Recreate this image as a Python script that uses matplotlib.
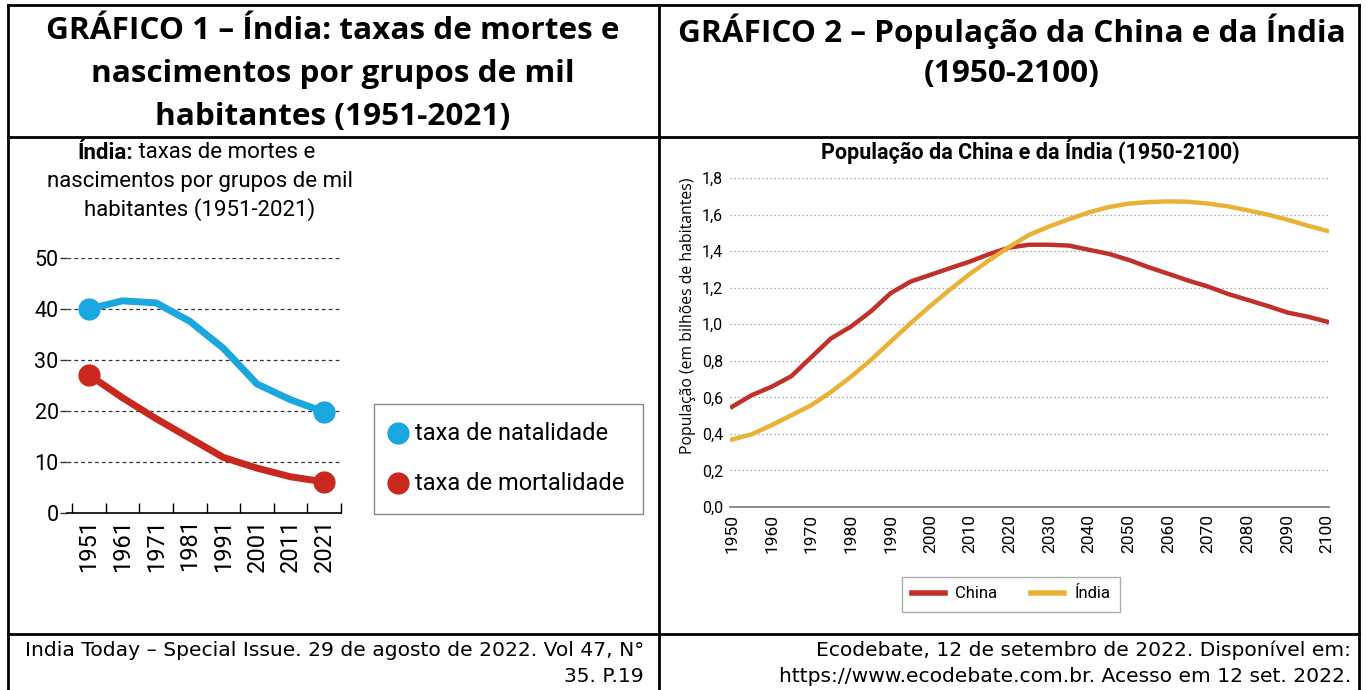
import matplotlib
matplotlib.use("Agg")
import matplotlib.pyplot as plt
from matplotlib.lines import Line2D
from matplotlib.patches import Rectangle

W, H = 1367, 690
fig = plt.figure(figsize=(W / 100, H / 100), dpi=100)
R = fig.canvas.get_renderer()

def fx(px): return px / W
def fy(py): return 1 - py / H

def fit(t, target_w):
    w = t.get_window_extent(R).width
    t.set_fontsize(t.get_fontsize() * target_w / w)
    return t

# ---------------- data ----------------
g1_years = ["1951", "1961", "1971", "1981", "1991", "2001", "2011", "2021"]
g1_natalidade = [40.0, 41.6, 41.2, 37.6, 32.3, 25.3, 22.2, 19.8]
g1_mortalidade = [27.1, 22.6, 18.5, 14.7, 10.9, 8.8, 7.1, 6.1]
g1_yticks = [0, 10, 20, 30, 40, 50]

g2_years = list(range(1950, 2101, 5))
g2_china = [0.548, 0.612, 0.658, 0.716, 0.82, 0.923, 0.987, 1.07, 1.17, 1.233,
            1.27, 1.307, 1.343, 1.385, 1.42, 1.435, 1.435, 1.43, 1.407, 1.385,
            1.352, 1.312, 1.276, 1.239, 1.206, 1.166, 1.133, 1.10, 1.064, 1.042, 1.014]
g2_india = [0.369, 0.398, 0.448, 0.502, 0.557, 0.63, 0.713, 0.804, 0.905, 1.005,
            1.10, 1.19, 1.276, 1.352, 1.425, 1.49, 1.535, 1.575, 1.612, 1.641,
            1.66, 1.668, 1.672, 1.67, 1.66, 1.645, 1.623, 1.60, 1.572, 1.54, 1.511]
g2_xticks = list(range(1950, 2101, 10))
g2_yticks = [0.0, 0.2, 0.4, 0.6, 0.8, 1.0, 1.2, 1.4, 1.6, 1.8]

COND = ["Roboto", "DejaVu Sans"]
HEAD = ["Open Sans", "DejaVu Sans"]
FOOT = ["DejaVu Sans"]

# ---------------- table frame ----------------
lw = 2.0
for xs, ys in [((8, 1359), (5, 5)), ((8, 1359), (137, 137)), ((8, 1359), (634, 634)),
               ((8, 8), (5, 690)), ((659, 659), (5, 690)), ((1359, 1359), (5, 690))]:
    fig.add_artist(Line2D([fx(xs[0]), fx(xs[1])], [fy(ys[0]), fy(ys[1])],
                          color="black", lw=lw, transform=fig.transFigure))

# headers
h1 = ["GRÁFICO 1 – Índia: taxas de mortes e", "nascimentos por grupos de mil",
      "habitantes (1951-2021)"]
h2 = ["GRÁFICO 2 – População da China e da Índia", "(1950-2100)"]
t = fig.text(fx(333), fy(31), h1[0], ha="center", va="center", fontsize=21.5,
             fontweight="bold", family=HEAD)
fit(t, 572)
HFS = t.get_fontsize()
for i, s in enumerate(h1[1:], start=1):
    fig.text(fx(333), fy(31 + i * 43), s, ha="center", va="center",
             fontsize=HFS, fontweight="bold", family=HEAD)
for i, s in enumerate(h2):
    fig.text(fx(1012), fy(31 + i * 43), s, ha="center", va="center",
             fontsize=HFS, fontweight="bold", family=HEAD)

# footers
f1 = fig.text(fx(644), fy(650), "India Today – Special Issue. 29 de agosto de 2022. Vol 47, N°",
              ha="right", va="center", fontsize=14, family=FOOT)
fit(f1, 619)
FS = f1.get_fontsize()
fig.text(fx(644), fy(677), "35. P.19", ha="right", va="center", fontsize=FS, family=FOOT)
fig.text(fx(1351), fy(650), "Ecodebate, 12 de setembro de 2022. Disponível em:",
         ha="right", va="center", fontsize=FS, family=FOOT)
fig.text(fx(1351), fy(677), "https://www.ecodebate.com.br. Acesso em 12 set. 2022.",
         ha="right", va="center", fontsize=FS, family=FOOT)

# ---------------- chart 1 ----------------
blue = "#1aa6df"
red = "#c9281f"
ax1 = fig.add_axes([fx(67), fy(513), fx(341) - fx(67), fy(258) - fy(513)])
x1 = list(range(len(g1_years)))
ax1.plot(x1, g1_natalidade, color=blue, lw=5, solid_capstyle="round", zorder=3)
ax1.plot(x1, g1_mortalidade, color=red, lw=5, solid_capstyle="round", zorder=3)
ax1.plot([x1[0], x1[-1]], [g1_natalidade[0], g1_natalidade[-1]], "o", color=blue,
         ms=15, clip_on=False, zorder=4)
ax1.plot([x1[0], x1[-1]], [g1_mortalidade[0], g1_mortalidade[-1]], "o", color=red,
         ms=15, clip_on=False, zorder=4)
ax1.set_xlim(-0.65, 7.5)
ax1.set_ylim(0, 50)
for s in ["top", "right", "left"]:
    ax1.spines[s].set_visible(False)
ax1.spines["bottom"].set_linewidth(1.2)
ax1.set_yticks(g1_yticks)
ax1.set_yticklabels([str(v) for v in g1_yticks], family=COND, fontsize=15.5)
ax1.tick_params(axis="y", length=5, width=1, pad=1, color="#333333")
ax1.set_xticks([i - 0.5 for i in range(len(g1_years) + 1)])
ax1.set_xticklabels([])
ax1.set_xticks(x1, minor=True)
ax1.set_xticklabels(g1_years, minor=True, rotation=90, family=COND, fontsize=17)
ax1.tick_params(axis="x", which="major", direction="in", length=7, width=1)
ax1.tick_params(axis="x", which="minor", length=0, pad=4)
for v in g1_yticks[1:]:
    ax1.axhline(v, color="#333333", lw=0.9, ls=(0, (3, 2.5)), zorder=1)
ax1.patch.set_alpha(0)

# inner title 1
TFS = 16
tb = fig.text(0, fy(153), "Índia:", ha="left", va="center", fontsize=TFS,
              fontweight="bold", family=COND)
tr = fig.text(0, fy(153), " taxas de mortes e", ha="left", va="center", fontsize=TFS,
              family=COND)
wb = tb.get_window_extent(R).width
wr = tr.get_window_extent(R).width
x0 = 196 - (wb + wr) / 2
tb.set_x(fx(x0))
tr.set_x(fx(x0 + wb))
fig.text(fx(200), fy(182), "nascimentos por grupos de mil", ha="center", va="center",
         fontsize=TFS, family=COND)
fig.text(fx(200), fy(210), "habitantes (1951-2021)", ha="center", va="center",
         fontsize=TFS, family=COND)

# legend 1
fig.add_artist(Rectangle((fx(374), fy(514)), fx(643) - fx(374), fy(404) - fy(514),
                         transform=fig.transFigure, fill=False, ec="#888888", lw=1))
fig.add_artist(Line2D([fx(398)], [fy(433)], marker="o", ms=15, color=blue, lw=0,
                      transform=fig.transFigure))
fig.add_artist(Line2D([fx(398)], [fy(483)], marker="o", ms=15, color=red, lw=0,
                      transform=fig.transFigure))
fig.text(fx(415), fy(433), "taxa de natalidade", ha="left", va="center", fontsize=17,
         family=COND)
fig.text(fx(415), fy(483), "taxa de mortalidade", ha="left", va="center", fontsize=17,
         family=COND)

# ---------------- chart 2 ----------------
cred = "#c1302a"
cyel = "#e9b136"
ax2 = fig.add_axes([fx(730), fy(507), fx(1329) - fx(730), fy(178) - fy(507)])
ax2.plot(g2_years, g2_china, color=cred, lw=3.2, label="China", zorder=3)
ax2.plot(g2_years, g2_india, color=cyel, lw=3.2, label="Índia", zorder=3)
ax2.set_xlim(1949.5, 2100.5)
ax2.set_ylim(0, 1.8)
for s in ["top", "right", "left"]:
    ax2.spines[s].set_visible(False)
ax2.spines["bottom"].set_color("#777777")
ax2.spines["bottom"].set_linewidth(1.2)
ax2.set_yticks(g2_yticks)
ax2.set_yticklabels([f"{v:.1f}".replace(".", ",") for v in g2_yticks],
                    family=COND, fontsize=11.5)
ax2.set_xticks(g2_xticks)
ax2.set_xticklabels([str(v) for v in g2_xticks], rotation=90, family=COND, fontsize=12.5)
ax2.tick_params(axis="both", length=0, pad=5)
for v in g2_yticks[1:]:
    ax2.axhline(v, color="#aaaaaa", lw=0.9, ls=(0, (1.2, 2)), zorder=1)
ax2.set_ylabel("População (em bilhões de habitantes)", family=HEAD,
               fontsize=11.3, labelpad=4)
ax2.yaxis.label.set_position((0, 0.58))
ax2.patch.set_alpha(0)
fig.text(fx(1030), fy(151), "População da China e da Índia (1950-2100)", ha="center",
         va="center", fontsize=15.5, fontweight="bold", family=COND)
leg = ax2.legend(loc="center", bbox_to_anchor=(fx(1011), fy(594)),
                 bbox_transform=fig.transFigure, ncol=2, frameon=True, fancybox=False,
                 edgecolor="#999999", prop={"family": COND, "size": 12},
                 handlelength=2.0, columnspacing=2.0, borderpad=0.6, handletextpad=0.6)
leg.get_frame().set_linewidth(1)
for h in leg.get_lines():
    h.set_linewidth(4)

fig.savefig("out.png", dpi=100)
